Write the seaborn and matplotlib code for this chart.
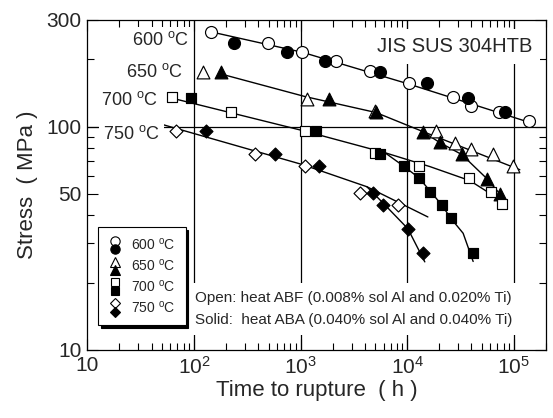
import numpy as np
import pandas as pd
import matplotlib
matplotlib.use("Agg")
import matplotlib.pyplot as plt
import seaborn as sns
from matplotlib.legend_handler import HandlerBase
from matplotlib.lines import Line2D
from matplotlib.ticker import LogLocator, NullFormatter

# ---------------- data (time to rupture [h], stress [MPa]) ----------------
t600_open = [143, 494, 1029, 2128, 4461, 10420, 26900, 39400, 72600, 138700]
s600_open = [265, 236, 215, 196, 177, 157, 135, 124, 116, 105.6]
t600_solid = [237, 740, 1690, 5530, 15400, 37200, 82200]
s600_solid = [236, 215, 196, 176, 157, 134.5, 116]

t650_open = [122, 1146, 4970, 18660, 27900, 40000, 63400, 98700]
s650_open = [175, 133, 117, 95.7, 84.7, 79.4, 75.5, 66.4]
t650_solid = [178, 1853, 5080, 13900, 20200, 32500, 55400, 73800]
s650_solid = [175, 133, 116, 95, 85, 75.7, 58.3, 50.1]

t700_open = [61.8, 221, 1097, 4970, 12900, 38200, 60750, 77000]
s700_open = [136, 116, 95.3, 76.2, 66.8, 58.9, 50.7, 45.1]
t700_solid = [93.1, 1391, 5530, 9290, 12900, 16460, 20970, 25500, 40900]
s700_solid = [134.5, 95.3, 75.7, 66.4, 58.9, 50.7, 44.7, 38.95, 27.1]

t750_open = [67.8, 373, 1097, 3600, 8170]
s750_open = [95.3, 75.7, 66.8, 50.4, 44.7]
t750_solid = [130, 574, 1500, 4810, 5940, 10190, 14100]
s750_solid = [96, 75.7, 66.8, 50.6, 44.7, 34.9, 27.1]

# drawn master curves (vertices)
c600_t = [169, 1040, 10350, 157000]
c600_s = [261, 215, 155, 102.6]
c650a_t = [187, 1097, 5080, 13700, 113500]
c650a_s = [171, 136.3, 115.6, 95.4, 64.1]
c650b_t = [13700, 20200, 32500, 55700, 82200]
c650b_s = [95.4, 84.8, 74.9, 58.5, 47.1]
c700a_t = [70.8, 1097, 6170, 16300, 38600, 69200]
c700a_s = [132, 95.4, 76.4, 66.2, 57.3, 48.0]
c700b_t = [6170, 9290, 12900, 20970, 25500, 33400, 41460]
c700b_s = [76.4, 66.4, 58.9, 44.7, 38.95, 33.3, 24.9]
c750a_t = [51.2, 1051, 4180, 15600]
c750a_s = [102, 67.5, 53.8, 39.4]
c750b_t = [4180, 5900, 10130, 14600]
c750b_s = [53.8, 45.6, 34.9, 24.8]

temps = ["600", "650", "700", "750"]
markers = ["o", "^", "s", "D"]
msizes = [8.6, 9.2, 7.6, 6.6]

x_major = [10, 1e2, 1e3, 1e4, 1e5]
x_labels = ["10", r"$\mathregular{10^2}$", r"$\mathregular{10^3}$",
            r"$\mathregular{10^4}$", r"$\mathregular{10^5}$"]
y_major = [10, 50, 100, 300]
y_labels = ["10", "50", "100", "300"]
y_minor = [20, 30, 40, 60, 70, 80, 90, 200]
grid_x = [1e2, 1e3, 1e4, 1e5]
grid_y = [100]

# ---------------- style ----------------
sns.set_theme(style="ticks")
plt.rcParams["font.family"] = ["Liberation Sans", "DejaVu Sans"]
plt.rcParams["mathtext.fontset"] = "custom"
plt.rcParams["mathtext.rm"] = "Liberation Sans"
plt.rcParams["mathtext.it"] = "Liberation Sans:italic"
plt.rcParams["axes.linewidth"] = 0.9

fig = plt.figure(figsize=(5.53, 4.18), dpi=100)
ax = fig.add_axes([0.1579, 0.1627, 0.8295, 0.7895])

# long-form point table
rows = []
series = {
    "600": (t600_open, s600_open, t600_solid, s600_solid),
    "650": (t650_open, s650_open, t650_solid, s650_solid),
    "700": (t700_open, s700_open, t700_solid, s700_solid),
    "750": (t750_open, s750_open, t750_solid, s750_solid),
}
for T, (to, so, ts, ss) in series.items():
    for t, s in zip(to, so):
        rows.append((T, "open", t, s))
    for t, s in zip(ts, ss):
        rows.append((T, "solid", t, s))
df = pd.DataFrame(rows, columns=["temp", "heat", "time", "stress"])

# curves
curves = [(c600_t, c600_s), (c650a_t, c650a_s), (c650b_t, c650b_s),
          (c700a_t, c700a_s), (c700b_t, c700b_s), (c750a_t, c750a_s),
          (c750b_t, c750b_s)]
for ct, cs in curves:
    sns.lineplot(x=ct, y=cs, ax=ax, color="black", lw=1.0, sort=False,
                 estimator=None, zorder=2)

# points
for T, m, ms in zip(temps, markers, msizes):
    for heat, fc in (("open", "white"), ("solid", "black")):
        sub = df[(df.temp == T) & (df.heat == heat)]
        sns.scatterplot(data=sub, x="time", y="stress", ax=ax, marker=m,
                        s=ms ** 2, color=fc, edgecolor="black", linewidth=0.85,
                        zorder=4, legend=False)

ax.set_xscale("log")
ax.set_yscale("log")
ax.set_xlim(10, 2e5)
ax.set_ylim(10, 300)

for g in grid_x:
    ax.axvline(g, color="black", lw=0.9, zorder=1)
for g in grid_y:
    ax.axhline(g, color="black", lw=0.9, zorder=1)

ax.set_xticks(x_major, x_labels)
ax.xaxis.set_minor_locator(LogLocator(base=10, subs=np.arange(2, 10)))
ax.xaxis.set_minor_formatter(NullFormatter())
ax.set_yticks(y_major, y_labels)
ax.set_yticks(y_minor, minor=True)
ax.yaxis.set_minor_formatter(NullFormatter())
ax.tick_params(which="both", direction="in", top=True, right=True,
               labelsize=15, width=0.8, color="black")
ax.tick_params(which="major", length=8, pad=4)
ax.tick_params(which="minor", length=5)
for sp in ax.spines.values():
    sp.set_color("black")
    sp.set_linewidth(0.9)

ax.set_xlabel("Time to rupture  ( h )", fontsize=16, labelpad=2)
ax.set_ylabel("Stress  ( MPa )", fontsize=16, labelpad=6)

# temperature labels
wbox = dict(facecolor="white", edgecolor="none", pad=3)
temp_pos = [(0.2217, 0.939), (0.2086, 0.843), (0.1541, 0.7576), (0.1585, 0.6545)]
for T, (px, py) in zip(temps, temp_pos):
    ax.text(px, py, T + r" $\mathregular{^o}$C", transform=ax.transAxes,
            ha="right", va="center", fontsize=13, bbox=wbox, zorder=2.2)

ax.text(0.9695, 0.919, "JIS SUS 304HTB", transform=ax.transAxes, ha="right",
        va="center", fontsize=14.5, bbox=dict(facecolor="white", edgecolor="none", pad=6),
        zorder=2.2)
ax.text(0.2348, 0.1567, "Open: heat ABF (0.008% sol Al and 0.020% Ti)",
        transform=ax.transAxes, ha="left", va="center", fontsize=11,
        bbox=dict(facecolor="white", edgecolor="none", pad=6), zorder=2.2)
ax.text(0.2348, 0.0909, "Solid:  heat ABA (0.040% sol Al and 0.040% Ti)",
        transform=ax.transAxes, ha="left", va="center", fontsize=11,
        bbox=dict(facecolor="white", edgecolor="none", pad=6), zorder=2.2)


# ---------------- legend with stacked open / solid markers ----------------
class Pair:
    def __init__(self, marker, ms):
        self.marker = marker
        self.ms = ms


class VPair(HandlerBase):
    def create_artists(self, legend, orig_handle, xdescent, ydescent, width,
                       height, fontsize, trans):
        cx = width / 2 - xdescent
        cy = height / 2 - ydescent
        d = 0.3 * fontsize
        arts = []
        for dy, fc in ((d, "white"), (-d, "black")):
            ln = Line2D([cx], [cy + dy], marker=orig_handle.marker,
                        markersize=orig_handle.ms * 0.78, markerfacecolor=fc,
                        markeredgecolor="black", markeredgewidth=0.8,
                        linestyle="none", transform=trans)
            arts.append(ln)
        return arts


handles = [Pair(m, ms) for m, ms in zip(markers, msizes)]
labels = [T + r" $\mathregular{^o}$C" for T in temps]
leg = ax.legend(handles, labels, handler_map={Pair: VPair()},
                loc="lower left", bbox_to_anchor=(0.0233, 0.0758),
                borderaxespad=0, fontsize=10, frameon=True, fancybox=False,
                shadow={"color": "black", "alpha": 1.0},
                handlelength=1.1, handletextpad=0.6, labelspacing=0.35,
                borderpad=0.7)
leg.get_frame().set_edgecolor("black")
leg.get_frame().set_linewidth(0.8)
leg.set_zorder(5)

fig.savefig("out.png", dpi=100)
